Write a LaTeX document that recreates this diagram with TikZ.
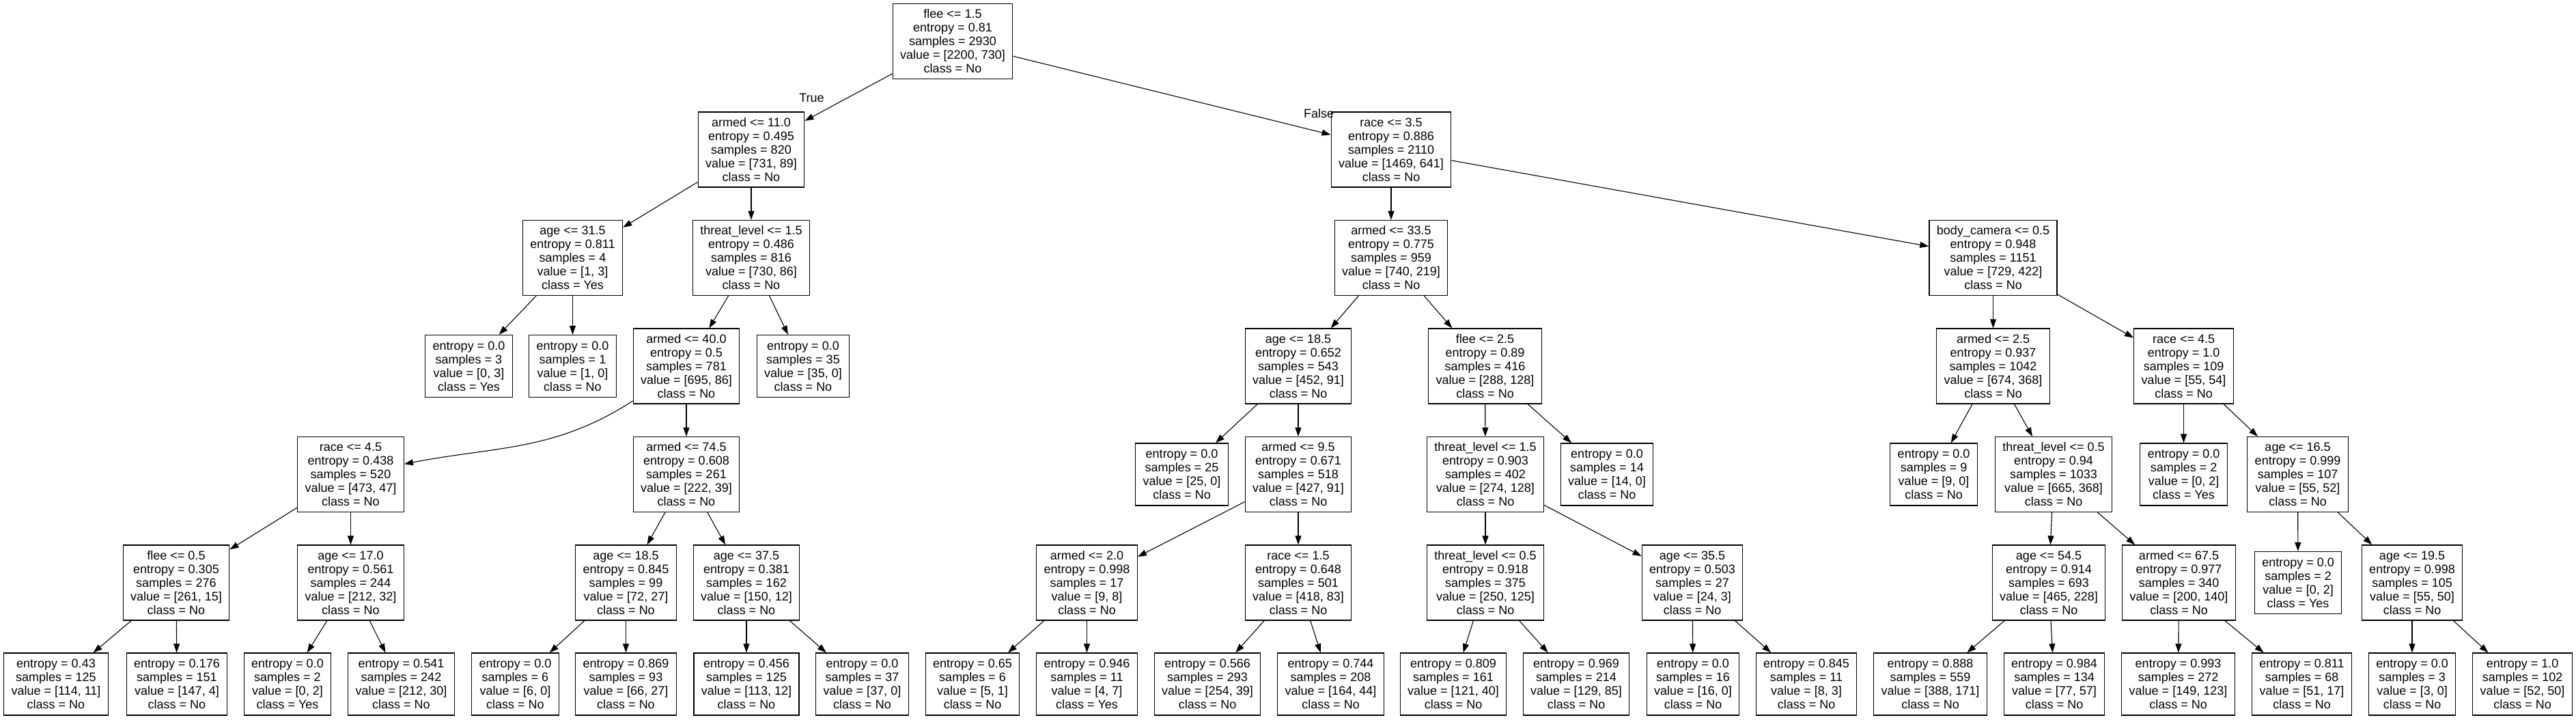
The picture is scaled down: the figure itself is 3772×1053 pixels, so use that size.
\documentclass[tikz,border=0pt]{standalone}
\usepackage{fontspec}
\setmainfont{Liberation Sans}
\usetikzlibrary{arrows.meta}

\begin{document}
\begin{tikzpicture}[->,>={Triangle[length=13pt,width=9pt]},line width=1.1pt,node distance=158.5pt,
        font=\fontsize{18pt}{20pt}\selectfont]
        \tikzstyle{splitbox}=[draw=black,rectangle,align=center,inner xsep=11pt,inner ysep=0pt,minimum height=110pt,line width=1.3pt]
        \tikzstyle{leafbox}=[splitbox,minimum height=91pt]
        \tikzstyle{branch}=[inner sep=0pt]

        \useasboundingbox (0,0) rectangle (3772pt,-1053pt);

        % root and first splits
        \node[splitbox] (r) at (1395pt,-60.5pt) {flee <= 1.5\\entropy = 0.81\\samples = 2930\\value = [2200, 730]\\class = No};
        \node[splitbox] (rL) [below of=r, xshift=-295pt] {armed <= 11.0\\entropy = 0.495\\samples = 820\\value = [731, 89]\\class = No};
        \node[splitbox] (rR) [below of=r, xshift=642pt]  {race <= 3.5\\entropy = 0.886\\samples = 2110\\value = [1469, 641]\\class = No};
        \node[branch] (lblTrue)  [above of=rL, node distance=76pt, xshift=88.5pt] {True};
        \node[branch] (lblFalse) [above of=rR, node distance=52.5pt, xshift=-106pt] {False};

        % level 2
        \node[splitbox] (rLL) [below of=rL, xshift=-261.5pt] {age <= 31.5\\entropy = 0.811\\samples = 4\\value = [1, 3]\\class = Yes};
        \node[splitbox] (rLR) [below of=rL]                  {threat\_level <= 1.5\\entropy = 0.486\\samples = 816\\value = [730, 86]\\class = No};
        \node[splitbox] (rRL) [below of=rR]                  {armed <= 33.5\\entropy = 0.775\\samples = 959\\value = [740, 219]\\class = No};
        \node[splitbox] (rRR) [below of=rR, xshift=881.5pt]  {body\_camera <= 0.5\\entropy = 0.948\\samples = 1151\\value = [729, 422]\\class = No};

        % level 3
        \node[leafbox]  (rLLL) [below of=rLL, xshift=-152pt] {entropy = 0.0\\samples = 3\\value = [0, 3]\\class = Yes};
        \node[leafbox]  (rLLR) [below of=rLL]                {entropy = 0.0\\samples = 1\\value = [1, 0]\\class = No};
        \node[splitbox] (rLRL) [below of=rLR, xshift=-95pt]  {armed <= 40.0\\entropy = 0.5\\samples = 781\\value = [695, 86]\\class = No};
        \node[leafbox]  (rLRR) [below of=rLR, xshift=76pt]   {entropy = 0.0\\samples = 35\\value = [35, 0]\\class = No};
        \node[splitbox] (rRLL) [below of=rRL, xshift=-136pt] {age <= 18.5\\entropy = 0.652\\samples = 543\\value = [452, 91]\\class = No};
        \node[splitbox] (rRLR) [below of=rRL, xshift=137.5pt] {flee <= 2.5\\entropy = 0.89\\samples = 416\\value = [288, 128]\\class = No};
        \node[splitbox] (rRRL) [below of=rRR]                {armed <= 2.5\\entropy = 0.937\\samples = 1042\\value = [674, 368]\\class = No};
        \node[splitbox] (rRRR) [below of=rRR, xshift=279pt]  {race <= 4.5\\entropy = 1.0\\samples = 109\\value = [55, 54]\\class = No};

        % level 4
        \node[splitbox] (rLRLL) [below of=rLRL, xshift=-491.5pt] {race <= 4.5\\entropy = 0.438\\samples = 520\\value = [473, 47]\\class = No};
        \node[splitbox] (rLRLR) [below of=rLRL]                  {armed <= 74.5\\entropy = 0.608\\samples = 261\\value = [222, 39]\\class = No};
        \node[leafbox]  (rRLLL) [below of=rRLL, xshift=-170.5pt] {entropy = 0.0\\samples = 25\\value = [25, 0]\\class = No};
        \node[splitbox] (rRLLR) [below of=rRLL]                  {armed <= 9.5\\entropy = 0.671\\samples = 518\\value = [427, 91]\\class = No};
        \node[splitbox] (rRLRL) [below of=rRLR, xshift=0.5pt]    {threat\_level <= 1.5\\entropy = 0.903\\samples = 402\\value = [274, 128]\\class = No};
        \node[leafbox]  (rRLRR) [below of=rRLR, xshift=178.5pt]  {entropy = 0.0\\samples = 14\\value = [14, 0]\\class = No};
        \node[leafbox]  (rRRLL) [below of=rRRL, xshift=-87pt]    {entropy = 0.0\\samples = 9\\value = [9, 0]\\class = No};
        \node[splitbox] (rRRLR) [below of=rRRL, xshift=88.5pt]   {threat\_level <= 0.5\\entropy = 0.94\\samples = 1033\\value = [665, 368]\\class = No};
        \node[leafbox]  (rRRRL) [below of=rRRR]                  {entropy = 0.0\\samples = 2\\value = [0, 2]\\class = Yes};
        \node[splitbox] (rRRRR) [below of=rRRR, xshift=167pt]    {age <= 16.5\\entropy = 0.999\\samples = 107\\value = [55, 52]\\class = No};

        % level 5
        \node[splitbox] (rLRLLL) [below of=rLRLL, xshift=-255.5pt] {flee <= 0.5\\entropy = 0.305\\samples = 276\\value = [261, 15]\\class = No};
        \node[splitbox] (rLRLLR) [below of=rLRLL]                  {age <= 17.0\\entropy = 0.561\\samples = 244\\value = [212, 32]\\class = No};
        \node[splitbox] (rLRLRL) [below of=rLRLR, xshift=-88.5pt]  {age <= 18.5\\entropy = 0.845\\samples = 99\\value = [72, 27]\\class = No};
        \node[splitbox] (rLRLRR) [below of=rLRLR, xshift=88pt]     {age <= 37.5\\entropy = 0.381\\samples = 162\\value = [150, 12]\\class = No};
        \node[splitbox] (rRLLRL) [below of=rRLLR, xshift=-309.5pt] {armed <= 2.0\\entropy = 0.998\\samples = 17\\value = [9, 8]\\class = No};
        \node[splitbox] (rRLLRR) [below of=rRLLR]                  {race <= 1.5\\entropy = 0.648\\samples = 501\\value = [418, 83]\\class = No};
        \node[splitbox] (rRLRLL) [below of=rRLRL]                  {threat\_level <= 0.5\\entropy = 0.918\\samples = 375\\value = [250, 125]\\class = No};
        \node[splitbox] (rRLRLR) [below of=rRLRL, xshift=303pt]    {age <= 35.5\\entropy = 0.503\\samples = 27\\value = [24, 3]\\class = No};
        \node[splitbox] (rRRLRL) [below of=rRRLR, xshift=-7pt]     {age <= 54.5\\entropy = 0.914\\samples = 693\\value = [465, 228]\\class = No};
        \node[splitbox] (rRRLRR) [below of=rRRLR, xshift=183.5pt]  {armed <= 67.5\\entropy = 0.977\\samples = 340\\value = [200, 140]\\class = No};
        \node[leafbox]  (rRRRRL) [below of=rRRRR, xshift=0.5pt]    {entropy = 0.0\\samples = 2\\value = [0, 2]\\class = Yes};
        \node[splitbox] (rRRRRR) [below of=rRRRR, xshift=167.5pt]  {age <= 19.5\\entropy = 0.998\\samples = 105\\value = [55, 50]\\class = No};

        % level 6, all leaves
        \node[leafbox] (rLRLLLL) [below of=rLRLLL, xshift=-176pt, yshift=10pt]   {entropy = 0.43\\samples = 125\\value = [114, 11]\\class = No};
        \node[leafbox] (rLRLLLR) [below of=rLRLLL, xshift=1pt, yshift=10pt]      {entropy = 0.176\\samples = 151\\value = [147, 4]\\class = No};
        \node[leafbox] (rLRLLRL) [below of=rLRLLR, xshift=-92.5pt, yshift=10pt]  {entropy = 0.0\\samples = 2\\value = [0, 2]\\class = Yes};
        \node[leafbox] (rLRLLRR) [below of=rLRLLR, xshift=74pt, yshift=10pt]     {entropy = 0.541\\samples = 242\\value = [212, 30]\\class = No};
        \node[leafbox] (rLRLRLL) [below of=rLRLRL, xshift=-162pt, yshift=10pt]   {entropy = 0.0\\samples = 6\\value = [6, 0]\\class = No};
        \node[leafbox] (rLRLRLR) [below of=rLRLRL, yshift=10pt]                  {entropy = 0.869\\samples = 93\\value = [66, 27]\\class = No};
        \node[leafbox] (rLRLRRL) [below of=rLRLRR, yshift=10pt]                  {entropy = 0.456\\samples = 125\\value = [113, 12]\\class = No};
        \node[leafbox] (rLRLRRR) [below of=rLRLRR, xshift=169.5pt, yshift=10pt]  {entropy = 0.0\\samples = 37\\value = [37, 0]\\class = No};
        \node[leafbox] (rRLLRLL) [below of=rRLLRL, xshift=-167.5pt, yshift=10pt] {entropy = 0.65\\samples = 6\\value = [5, 1]\\class = No};
        \node[leafbox] (rRLLRLR) [below of=rRLLRL, yshift=10pt]                  {entropy = 0.946\\samples = 11\\value = [4, 7]\\class = Yes};
        \node[leafbox] (rRLLRRL) [below of=rRLLRR, xshift=-133pt, yshift=10pt]   {entropy = 0.566\\samples = 293\\value = [254, 39]\\class = No};
        \node[leafbox] (rRLLRRR) [below of=rRLLRR, xshift=47.5pt, yshift=10pt]   {entropy = 0.744\\samples = 208\\value = [164, 44]\\class = No};
        \node[leafbox] (rRLRLLL) [below of=rRLRLL, xshift=-47pt, yshift=10pt]    {entropy = 0.809\\samples = 161\\value = [121, 40]\\class = No};
        \node[leafbox] (rRLRLLR) [below of=rRLRLL, xshift=133pt, yshift=10pt]    {entropy = 0.969\\samples = 214\\value = [129, 85]\\class = No};
        \node[leafbox] (rRLRLRL) [below of=rRLRLR, xshift=1pt, yshift=10pt]      {entropy = 0.0\\samples = 16\\value = [16, 0]\\class = No};
        \node[leafbox] (rRLRLRR) [below of=rRLRLR, xshift=167pt, yshift=10pt]    {entropy = 0.845\\samples = 11\\value = [8, 3]\\class = No};
        \node[leafbox] (rRRLRLL) [below of=rRRLRL, xshift=-173.5pt, yshift=10pt] {entropy = 0.888\\samples = 559\\value = [388, 171]\\class = No};
        \node[leafbox] (rRRLRLR) [below of=rRRLRL, xshift=8pt, yshift=10pt]      {entropy = 0.984\\samples = 134\\value = [77, 57]\\class = No};
        \node[leafbox] (rRRLRRL) [below of=rRRLRR, xshift=-1pt, yshift=10pt]     {entropy = 0.993\\samples = 272\\value = [149, 123]\\class = No};
        \node[leafbox] (rRRLRRR) [below of=rRRLRR, xshift=180pt, yshift=10pt]    {entropy = 0.811\\samples = 68\\value = [51, 17]\\class = No};
        \node[leafbox] (rRRRRRL) [below of=rRRRRR, yshift=10pt]                  {entropy = 0.0\\samples = 3\\value = [3, 0]\\class = No};
        \node[leafbox] (rRRRRRR) [below of=rRRRRR, xshift=161.5pt, yshift=10pt]  {entropy = 1.0\\samples = 102\\value = [52, 50]\\class = No};

        \path (r)      edge (rL)
                       edge (rR)
              (rL)     edge (rLL)
                       edge (rLR)
              (rR)     edge (rRL)
                       edge (rRR)
              (rLL)    edge (rLLL)
                       edge (rLLR)
              (rLR)    edge (rLRL)
                       edge (rLRR)
              (rRL)    edge (rRLL)
                       edge (rRLR)
              (rRR)    edge (rRRL)
                       edge (rRRR)
              (rLRL)   edge [out=213, in=11] (rLRLL)
                       edge (rLRLR)
              (rRLL)   edge (rRLLL)
                       edge (rRLLR)
              (rRLR)   edge (rRLRL)
                       edge (rRLRR)
              (rRRL)   edge (rRRLL)
                       edge (rRRLR)
              (rRRR)   edge (rRRRL)
                       edge (rRRRR)
              (rLRLL)  edge (rLRLLL)
                       edge (rLRLLR)
              (rLRLR)  edge (rLRLRL)
                       edge (rLRLRR)
              (rRLLR)  edge (rRLLRL)
                       edge (rRLLRR)
              (rRLRL)  edge (rRLRLL)
                       edge (rRLRLR)
              (rRRLR)  edge (rRRLRL)
                       edge (rRRLRR)
              (rRRRR)  edge (rRRRRL)
                       edge (rRRRRR)
              (rLRLLL) edge (rLRLLLL)
                       edge (rLRLLLR)
              (rLRLLR) edge (rLRLLRL)
                       edge (rLRLLRR)
              (rLRLRL) edge (rLRLRLL)
                       edge (rLRLRLR)
              (rLRLRR) edge (rLRLRRL)
                       edge (rLRLRRR)
              (rRLLRL) edge (rRLLRLL)
                       edge (rRLLRLR)
              (rRLLRR) edge (rRLLRRL)
                       edge (rRLLRRR)
              (rRLRLL) edge (rRLRLLL)
                       edge (rRLRLLR)
              (rRLRLR) edge (rRLRLRL)
                       edge (rRLRLRR)
              (rRRLRL) edge (rRRLRLL)
                       edge (rRRLRLR)
              (rRRLRR) edge (rRRLRRL)
                       edge (rRRLRRR)
              (rRRRRR) edge (rRRRRRL)
                       edge (rRRRRRR)
        ;
    \end{tikzpicture}
\end{document}
